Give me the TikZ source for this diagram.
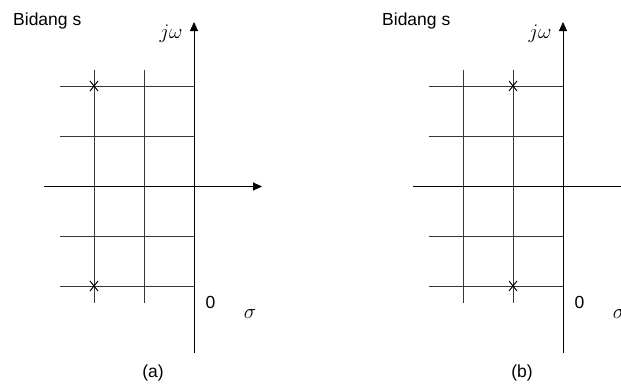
\documentclass[tikz,border=0pt]{standalone}
\usepackage{fontspec}
\setmainfont{Liberation Sans}
\usetikzlibrary{arrows.meta}
\tikzset{
  gridline/.style={draw=black!78, line width=0.9pt},
  axisline/.style={draw=black, line width=0.9pt, -{Triangle[length=9pt,width=8pt]}},
  axisplain/.style={draw=black, line width=0.9pt},
  crossmark/.style={draw=black, line width=0.9pt},
  lbl/.style={inner sep=0pt, font=\fontsize{17.5}{20}\selectfont},
  mathlbl/.style={inner sep=0pt, font=\fontsize{21}{24}\selectfont},
}
\newcommand\sPlane[3]{%
  % #1 prefix, #2 caption, #3 x of crosses
  \coordinate (#1v1t) at (94,70);  \coordinate (#1v1b) at (94,303);
  \coordinate (#1v2t) at (144,70); \coordinate (#1v2b) at (144,303);
  \foreach \yy/\nn in {86/a,136/b,236/c,286/d}{
    \coordinate (#1h\nn l) at (60,\yy); \coordinate (#1h\nn r) at (194,\yy);
    \draw[gridline] (#1h\nn l) -- (#1h\nn r);
  }
  \draw[gridline] (#1v1t) -- (#1v1b);
  \draw[gridline] (#1v2t) -- (#1v2b);
  \coordinate (#1xl) at (44,186.5); \coordinate (#1xr) at (262,186.5);
  \coordinate (#1yb) at (194,353); \coordinate (#1yt) at (194,22);
  \draw[axisline] (#1xl) -- (#1xr);
  \draw[axisline] (#1yb) -- (#1yt);
  \foreach \cy/\cn in {86/p,286/q}{
    \coordinate (#1c\cn) at (#3,\cy);
    \draw[crossmark] ([shift={(-4,-5)}]#1c\cn) -- ([shift={(4,5)}]#1c\cn);
    \draw[crossmark] ([shift={(-4,5)}]#1c\cn) -- ([shift={(4,-5)}]#1c\cn);
  }
  \node[lbl, anchor=base west] (#1title) at (13,25) {Bidang s};
  \node[mathlbl] (#1jw) at (171,34) {$j\omega$};
  \node[lbl] (#1zero) at (210.5,302) {0};
  \node[mathlbl] (#1sigma) at (250,314) {$\sigma$};
  \node[lbl] (#1cap) at (153,373) {#2};
}
\begin{document}
\begin{tikzpicture}[x=1pt,y=-1pt]
  \useasboundingbox (0,0) rectangle (621,383);
  \clip (0,0) rectangle (621,383);
  \sPlane{A}{(a)}{94}
  \begin{scope}[xshift=369pt]
    \sPlane{B}{(b)}{144}
  \end{scope}
\end{tikzpicture}
\end{document}
